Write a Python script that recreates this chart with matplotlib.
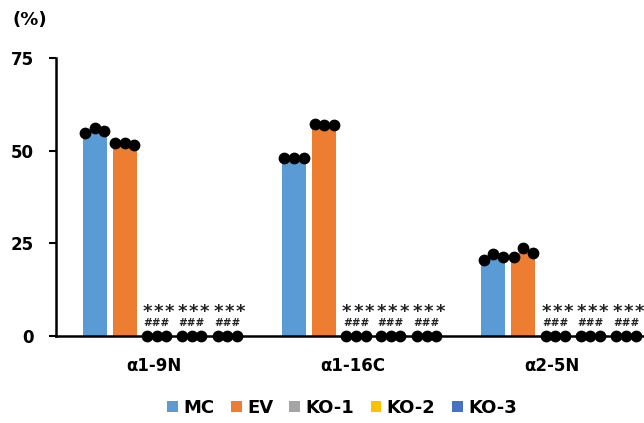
import numpy as np
import matplotlib.pyplot as plt

plt.rcParams['font.family'] = ['DejaVu Sans']
plt.rcParams['font.weight'] = 'bold'

categories = ['α1-9N', 'α1-16C', 'α2-5N']
series = ['MC', 'EV', 'KO-1', 'KO-2', 'KO-3']
colors = ['#5B9BD5', '#ED7D31', '#A5A5A5', '#FFC000', '#4472C4']

# bar heights (%)
mc_mean = [55.4, 48.0, 21.0]
ev_mean = [51.9, 57.0, 22.5]
ko1_mean = [0, 0, 0]
ko2_mean = [0, 0, 0]
ko3_mean = [0, 0, 0]

# individual points, 3 per group
mc_pts = [[54.9, 56.0, 55.4], [47.9, 48.1, 48.1], [20.5, 22.1, 21.2]]
ev_pts = [[52.0, 52.1, 51.6], [57.2, 57.0, 56.9], [21.4, 23.7, 22.5]]
ko1_pts = [[0, 0, 0], [0, 0, 0], [0, 0, 0]]
ko2_pts = [[0, 0, 0], [0, 0, 0], [0, 0, 0]]
ko3_pts = [[0, 0, 0], [0, 0, 0], [0, 0, 0]]

means = [mc_mean, ev_mean, ko1_mean, ko2_mean, ko3_mean]
points = [mc_pts, ev_pts, ko1_pts, ko2_pts, ko3_pts]
offsets = [-0.296, -0.145, 0.015, 0.19, 0.37]
width = 0.12
jitter = np.array([-0.048, 0, 0.048])
star_step = np.array([-0.056, 0, 0.056])

fig = plt.figure(figsize=(6.44, 4.23), dpi=100)
ax = fig.add_axes([56 / 644, 1 - 336 / 423, 1 - 56 / 644, (336 - 58) / 423])

x = np.arange(len(categories))
for s in range(len(series)):
    ax.bar(x + offsets[s], means[s], width, color=colors[s], label=series[s], zorder=2)
    for g in range(len(categories)):
        ax.scatter(x[g] + offsets[s] + jitter, points[s][g], s=72, color='black',
                   zorder=4, clip_on=False, linewidths=0)

# significance marks over the KO groups (*** vs MC, ### vs EV)
for g in range(len(categories)):
    for s in range(2, 5):
        for dx in star_step:
            ax.text(x[g] + offsets[s] + 0.01 + dx, 5.2, '*', ha='center', va='baseline',
                    fontsize=13, color='#222222')
        ax.text(x[g] + offsets[s], 2.7, '###', ha='center', va='baseline',
                fontsize=7.5, color='#222222')

ax.set_xlim(-0.49, 2.46)
ax.set_ylim(0, 75)
ax.set_yticks([0, 25, 50, 75])
ax.set_xticks(x)
ax.set_xticklabels(categories)
ax.tick_params(axis='x', length=0, pad=15, labelsize=12)
ax.tick_params(axis='y', length=5, width=1.5, pad=11, labelsize=12)
for side in ['top', 'right']:
    ax.spines[side].set_visible(False)
for side in ['left', 'bottom']:
    ax.spines[side].set_linewidth(1.8)

fig.text(13 / 644, 1 - 20 / 423, '(%)', ha='left', va='center', fontsize=13)

fig.legend(loc='center', bbox_to_anchor=(342 / 644, 1 - 408 / 423), ncol=5,
           frameon=False, fontsize=13, handlelength=0.6, handleheight=0.6,
           handletextpad=0.3, columnspacing=0.9)

fig.savefig('out.png', dpi=100, facecolor='white')
